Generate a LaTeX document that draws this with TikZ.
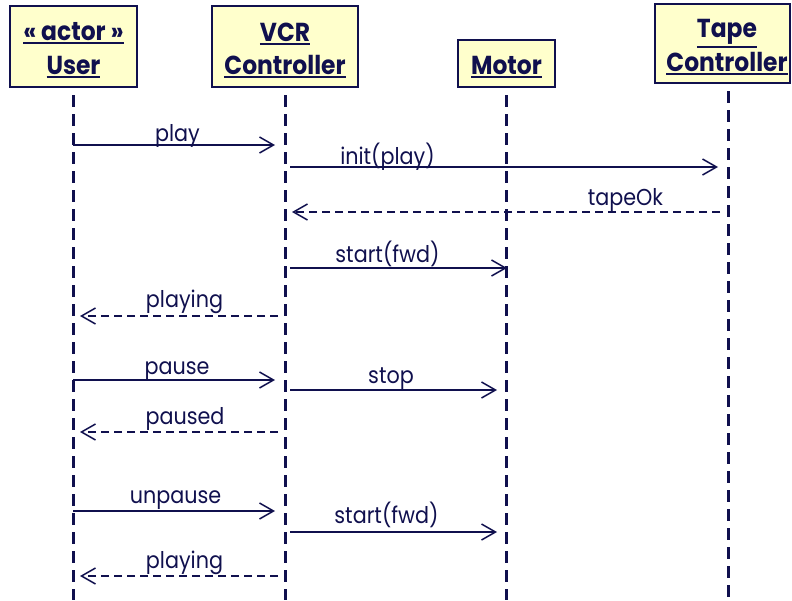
\documentclass[tikz,border=0pt]{standalone}
\usepackage{fontspec}
\usepackage{graphicx}
\setmainfont{Poppins}
\usetikzlibrary{arrows.meta}
\definecolor{ink}{RGB}{16,16,78}
\definecolor{boxfill}{RGB}{255,255,204}
% slightly condensed text
\newcommand\narrow[1]{\scalebox{0.9}[1]{#1}}
% underlined object name
\newcommand\objname[1]{\leavevmode\vtop{\hbox{\narrow{#1}}\kern2pt\hrule height 2pt}}
\begin{document}
\begin{tikzpicture}[x=1pt,y=-1pt,
  obj/.style={draw=ink, line width=2pt, fill=boxfill, inner sep=0pt},
  objtext/.style={text=ink, font=\fontsize{26}{34}\selectfont\bfseries,
    anchor=base, inner sep=0pt},
  lifeline/.style={draw=ink, line width=3pt, dash pattern=on 12pt off 7pt, dash phase=12pt},
  call/.style={draw=ink, line width=1.5pt,
    -{Straight Barb[length=14pt,width=16pt,line width=1.5pt]}},
  reply/.style={call, dash pattern=on 8pt off 5pt},
  lbl/.style={text=ink, font=\fontsize{23}{26}\selectfont, anchor=base, inner sep=0pt}]
\useasboundingbox (0,0) rectangle (792,600);

% objects
\node[obj, minimum width=127pt, minimum height=81pt] (user) at (73.5,46.5) {};
\node[obj, minimum width=146pt, minimum height=81pt] (vcr) at (285,46.5) {};
\node[obj, minimum width=97pt, minimum height=47pt] (motor) at (506.5,63.5) {};
\node[obj, minimum width=135pt, minimum height=79pt] (tape) at (722.5,43.5) {};

% object names
\node[objtext] (userA) at (73.5,40) {\objname{« actor »}};
\node[objtext] (userB) at (73.5,74) {\objname{User}};
\node[objtext] (vcrA) at (285,41) {\objname{VCR}};
\node[objtext] (vcrB) at (285,74) {\objname{Controller}};
\node[objtext] (motorA) at (506.5,74) {\objname{Motor}};
\node[objtext] (tapeA) at (727,37) {\objname{Tape}};
\node[objtext] (tapeB) at (727,71) {\objname{Controller}};

% lifelines
\draw[lifeline] (user.south) -- (user.south |- 0,600);
\draw[lifeline] (vcr.south) -- (vcr.south |- 0,600);
\draw[lifeline] (motor.south) -- (motor.south |- 0,600);
\draw[lifeline] ([xshift=5.5pt]tape.south) -- ([xshift=5.5pt]tape.south |- 0,600);

% message end points
\coordinate (m1a) at (73,145);  \coordinate (m1b) at (275,145);
\coordinate (m2a) at (290,167); \coordinate (m2b) at (718,167);
\coordinate (m3a) at (720,212); \coordinate (m3b) at (292,212);
\coordinate (m4a) at (290,268); \coordinate (m4b) at (507,268);
\coordinate (m5a) at (278,316); \coordinate (m5b) at (80,316);
\coordinate (m6a) at (73,380);  \coordinate (m6b) at (275,380);
\coordinate (m7a) at (290,390); \coordinate (m7b) at (497,390);
\coordinate (m8a) at (278,432); \coordinate (m8b) at (80,432);
\coordinate (m9a) at (73,511);  \coordinate (m9b) at (275,511);
\coordinate (m10a) at (290,532); \coordinate (m10b) at (497,532);
\coordinate (m11a) at (278,576); \coordinate (m11b) at (80,576);

% messages
\draw[call]  (m1a) -- (m1b);
\draw[call]  (m2a) -- (m2b);
\draw[reply] (m3a) -- (m3b);
\draw[call]  (m4a) -- (m4b);
\draw[reply] (m5a) -- (m5b);
\draw[call]  (m6a) -- (m6b);
\draw[call]  (m7a) -- (m7b);
\draw[reply] (m8a) -- (m8b);
\draw[call]  (m9a) -- (m9b);
\draw[call]  (m10a) -- (m10b);
\draw[reply] (m11a) -- (m11b);

% message labels
\node[lbl] (l1) at (177.5,141) {\narrow{play}};
\node[lbl] (l2) at (387.5,164) {\narrow{init(play)}};
\node[lbl] (l3) at (625.5,205) {\narrow{tapeOk}};
\node[lbl] (l4) at (387.5,262) {\narrow{start(fwd)}};
\node[lbl] (l5) at (184.5,307) {\narrow{playing}};
\node[lbl] (l6) at (177,374) {\narrow{pause}};
\node[lbl] (l7) at (391,383) {\narrow{stop}};
\node[lbl] (l8) at (185,424) {\narrow{paused}};
\node[lbl] (l9) at (175.5,503) {\narrow{unpause}};
\node[lbl] (l10) at (386.5,523) {\narrow{start(fwd)}};
\node[lbl] (l11) at (184.5,568) {\narrow{playing}};
\end{tikzpicture}
\end{document}
